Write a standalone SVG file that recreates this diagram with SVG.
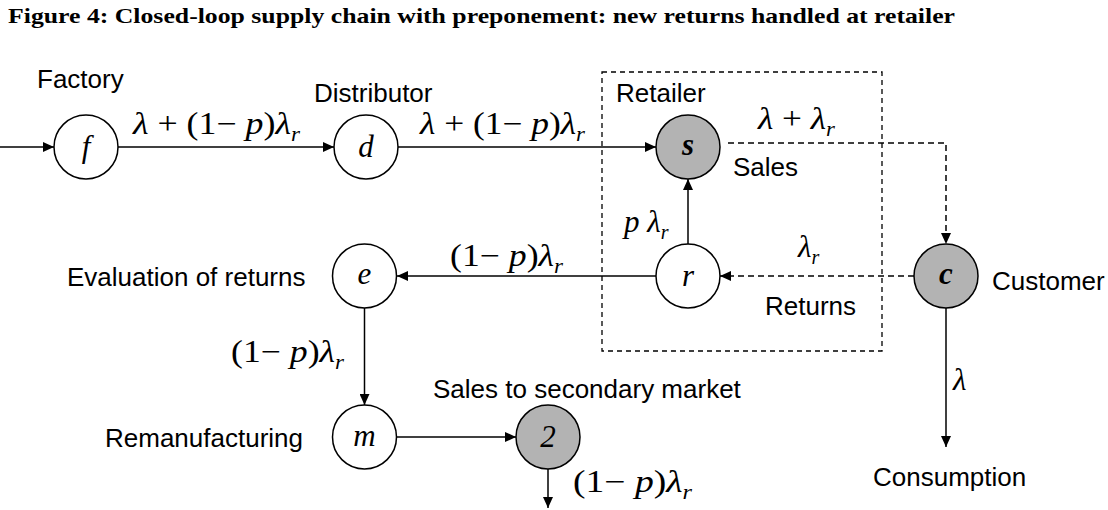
<svg xmlns="http://www.w3.org/2000/svg" width="1108" height="510" viewBox="0 0 1108 510">
  <style>
    .title { font-family: "Liberation Serif", "Times New Roman", serif; font-weight: bold; font-size: 22px; fill: #000; }
    .lbl { font-family: "Liberation Sans", Arial, sans-serif; font-size: 26px; fill: #000; }
    .math { font-family: "Liberation Serif", "Times New Roman", serif; font-size: 31px; fill: #000; }
    .it { font-style: italic; }
    .sub { font-style: italic; font-size: 20px; }
    .node { stroke: #000; stroke-width: 1.5; fill: #fff; }
    .node.grey { fill: #b3b3b3; }
    .ntext { font-family: "Liberation Serif", "Times New Roman", serif; font-style: italic; font-size: 31px; text-anchor: middle; fill: #000; }
    .edge { stroke: #000; stroke-width: 1.5; fill: none; }
    .dash { stroke-dasharray: 6 4; }
    .box { stroke: #000; stroke-width: 1.3; fill: none; stroke-dasharray: 5 4; }
  </style>
  <defs>
    <marker id="arrow" markerUnits="userSpaceOnUse" markerWidth="11" markerHeight="10" refX="11" refY="5" orient="auto">
      <path d="M0,0 L11,5 L0,10 z" fill="#000"/>
    </marker>
  </defs>

  <rect width="1108" height="510" fill="#fff"/>

  <text class="title" x="8" y="23" textLength="947" lengthAdjust="spacingAndGlyphs">Figure 4: Closed-loop supply chain with preponement: new returns handled at retailer</text>

  <!-- retailer boundary -->
  <rect class="box" x="602" y="72" width="280" height="279"/>

  <!-- flows -->
  <g id="connectors">
    <path class="edge" d="M0,147 H54" marker-end="url(#arrow)"/>
    <path class="edge" d="M118,147 H334" marker-end="url(#arrow)"/>
    <path class="edge" d="M398,147 H656" marker-end="url(#arrow)"/>
    <path class="edge dash" d="M728,143 H946 V244" marker-end="url(#arrow)"/>
    <path class="edge dash" d="M914,276 H720" marker-end="url(#arrow)"/>
    <path class="edge" d="M688,244 V179" marker-end="url(#arrow)"/>
    <path class="edge" d="M656,276 H397" marker-end="url(#arrow)"/>
    <path class="edge" d="M364.5,308 V405" marker-end="url(#arrow)"/>
    <path class="edge" d="M397,437 H516" marker-end="url(#arrow)"/>
    <path class="edge" d="M548,469 V508" marker-end="url(#arrow)"/>
    <path class="edge" d="M946,308 V447" marker-end="url(#arrow)"/>

    <!-- flow rates -->
    <text class="math" x="133" y="134" textLength="167" lengthAdjust="spacingAndGlyphs"><tspan class="it">λ</tspan> + (1− <tspan class="it">p</tspan>)<tspan class="it">λ</tspan><tspan class="sub" dy="7">r</tspan></text>
    <text class="math" x="420" y="134" textLength="165" lengthAdjust="spacingAndGlyphs"><tspan class="it">λ</tspan> + (1− <tspan class="it">p</tspan>)<tspan class="it">λ</tspan><tspan class="sub" dy="7">r</tspan></text>
    <text class="math" x="758" y="129" textLength="77" lengthAdjust="spacingAndGlyphs"><tspan class="it">λ</tspan> + <tspan class="it">λ</tspan><tspan class="sub" dy="7">r</tspan></text>
    <text class="math" x="798" y="257"><tspan class="it">λ</tspan><tspan class="sub" dy="7">r</tspan></text>
    <text class="math" x="624" y="232"><tspan class="it">p</tspan> <tspan class="it">λ</tspan><tspan class="sub" dy="7">r</tspan></text>
    <text class="math" x="450" y="266" textLength="113" lengthAdjust="spacingAndGlyphs">(1− <tspan class="it">p</tspan>)<tspan class="it">λ</tspan><tspan class="sub" dy="7">r</tspan></text>
    <text class="math" x="231" y="362" textLength="113" lengthAdjust="spacingAndGlyphs">(1− <tspan class="it">p</tspan>)<tspan class="it">λ</tspan><tspan class="sub" dy="7">r</tspan></text>
    <text class="math" x="573" y="492" textLength="119" lengthAdjust="spacingAndGlyphs">(1− <tspan class="it">p</tspan>)<tspan class="it">λ</tspan><tspan class="sub" dy="7">r</tspan></text>
    <text class="math it" x="953" y="390">λ</text>
  </g>

  <g id="factory">
    <circle class="node" cx="86" cy="147" r="32"/>
    <text class="ntext" x="86" y="157">f</text>
    <text class="lbl" x="37" y="88">Factory</text>
  </g>

  <g id="distributor">
    <circle class="node" cx="366" cy="147" r="32"/>
    <text class="ntext" x="366" y="157">d</text>
    <text class="lbl" x="314" y="102">Distributor</text>
  </g>

  <g id="retailer-sales">
    <circle class="node grey" cx="688" cy="147" r="32"/>
    <text class="ntext" x="688" y="155" font-weight="bold">s</text>
    <text class="lbl" x="616" y="102">Retailer</text>
    <text class="lbl" x="733" y="176">Sales</text>
  </g>

  <g id="retailer-returns">
    <circle class="node" cx="688" cy="276" r="32"/>
    <text class="ntext" x="688" y="286">r</text>
    <text class="lbl" x="765" y="315">Returns</text>
  </g>

  <g id="customer">
    <circle class="node grey" cx="946" cy="276" r="32"/>
    <text class="ntext" x="946" y="284" font-weight="bold">c</text>
    <text class="lbl" x="992" y="290">Customer</text>
    <text class="lbl" x="873" y="486">Consumption</text>
  </g>

  <g id="evaluation">
    <circle class="node" cx="364.5" cy="276" r="32"/>
    <text class="ntext" x="364.5" y="284">e</text>
    <text class="lbl" x="67" y="286">Evaluation of returns</text>
  </g>

  <g id="remanufacturing">
    <circle class="node" cx="364.5" cy="437" r="32"/>
    <text class="ntext" x="364.5" y="446">m</text>
    <text class="lbl" x="105" y="447">Remanufacturing</text>
  </g>

  <g id="secondary-market">
    <circle class="node grey" cx="548" cy="437" r="32"/>
    <text class="ntext" x="548" y="447" font-style="normal">2</text>
    <text class="lbl" x="433" y="398">Sales to secondary market</text>
  </g>
</svg>
